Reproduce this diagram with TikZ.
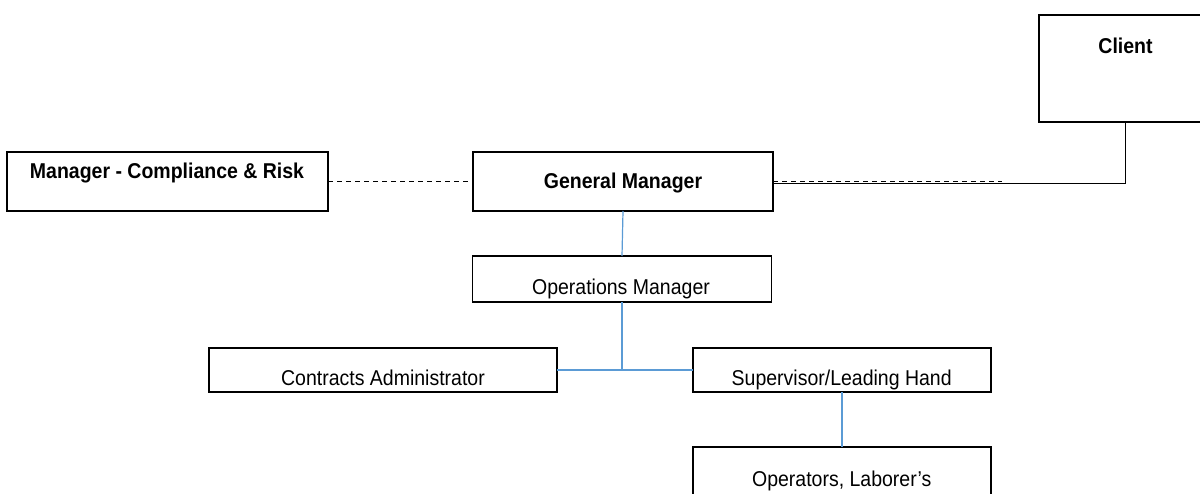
\documentclass[tikz,border=0pt]{standalone}
\usepackage{fontspec}
\usepackage{graphicx}
\setmainfont{Liberation Sans}
\definecolor{linkblue}{RGB}{91,155,213}
\newcommand{\tallt}[1]{\scalebox{1}[1.1]{#1}}
\begin{document}
\begin{tikzpicture}[x=1pt,y=-1pt,
  box/.style={draw=black,line width=1.8pt,rectangle,inner sep=0pt,outer sep=0pt},
  lbl/.style={anchor=base,inner sep=0pt,font=\fontsize{19.5}{23}\selectfont},
  blbl/.style={lbl,font=\fontsize{19.5}{23}\selectfont\bfseries},
  bluelink/.style={draw=linkblue,line width=1.2pt},
  dashlink/.style={draw=black,line width=1pt,dash pattern=on 5pt off 4pt},
  solidlink/.style={draw=black,line width=1pt}]
\path[use as bounding box] (0,0) rectangle (1200,493);
\clip (0,0) rectangle (1200,493);
% boxes
\node[box,minimum width=173pt,minimum height=107pt] (client) at (1125.5,68.5) {};
\node[box,minimum width=321pt,minimum height=59pt] (mcr) at (167.5,181.5) {};
\node[box,minimum width=300pt,minimum height=59pt] (gm) at (623,181.5) {};
\node[box,minimum width=299pt,minimum height=46pt] (ops) at (622,279) {};
\node[box,minimum width=348pt,minimum height=44pt] (ca) at (383,370) {};
\node[box,minimum width=298pt,minimum height=44pt] (sup) at (842,370) {};
\node[box,minimum width=298pt,minimum height=53pt] (opr) at (842,473.5) {};
% labels
\node[blbl] (tclient) at (1125.5,53) {\tallt{Client}};
\node[blbl] (tmcr) at (167,178) {\tallt{Manager - Compliance \& Risk}};
\node[blbl] (tgm) at (623,188.3) {\tallt{General Manager}};
\node[lbl] (tops) at (621,294.3) {\tallt{Operations Manager}};
\node[lbl] (tca) at (383,385.7) {\tallt{Contracts Administrator}};
\node[lbl] (tsup) at (841.7,385) {\tallt{Supervisor/Leading Hand}};
\node[lbl] (topr) at (841.7,486.7) {\tallt{Operators, Laborer’s}};
% connectors
\coordinate (dashend) at (1002,181);
\coordinate (gmr) at (773,183.3);
\draw[dashlink] (mcr.east) -- (gm.west);
\draw[dashlink] (gm.east |- dashend) -- (dashend);
\draw[solidlink] (gmr) -| (client.south);
\draw[bluelink] (gm.south) -- (ops.north);
\draw[bluelink] (ops.south) -- (ops.south |- ca.east);
\draw[bluelink] (ca.east) -- (sup.west);
\draw[bluelink] (sup.south) -- (opr.north);
\end{tikzpicture}
\end{document}
